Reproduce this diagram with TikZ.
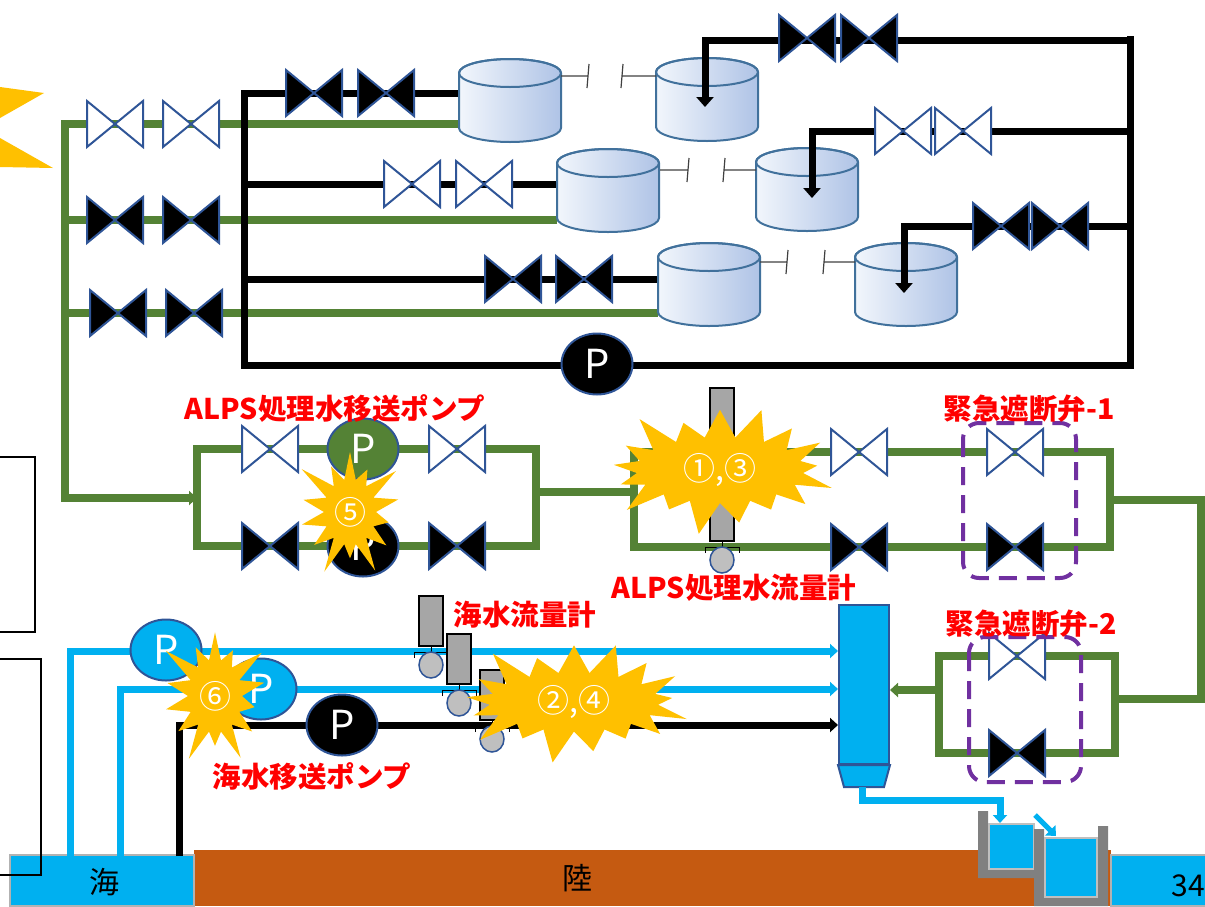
\documentclass[tikz,border=0pt]{standalone}
\usepackage{fontspec}
\setmainfont{Noto Sans CJK JP}
\usetikzlibrary{arrows.meta,shapes.geometric,shapes.symbols}

\definecolor{pipegreen}{HTML}{548235}
\definecolor{seablue}{HTML}{00B0F0}
\definecolor{edgeblue}{HTML}{2F5597}
\definecolor{tankedge}{HTML}{41719C}
\definecolor{tanklight}{HTML}{F2F6FC}
\definecolor{tankdark}{HTML}{AFC3E6}
\definecolor{boomyellow}{HTML}{FFC000}
\definecolor{dashpurple}{HTML}{7030A0}
\definecolor{landbrown}{HTML}{C55A11}
\definecolor{metergray}{HTML}{A6A6A6}
\definecolor{bulbgray}{HTML}{BFBFBF}

\tikzset{
  valve/.pic={\draw[draw=edgeblue,line width=2pt,line join=miter,pic actions]
    (-28,-23) -- (-28,23) -- (28,-23) -- (28,23) -- cycle;},
  tank/.pic={\draw[tankedge,line width=2pt,left color=tanklight,right color=tankdark]
    (-51,0) -- (-51,55) arc (180:0:51 and 14) -- (51,0) arc (0:-180:51 and 14) -- cycle;
    \draw[tankedge,line width=2pt] (0,0) ellipse (51 and 14);},
  pics/meter/.style={code={
    \draw[line width=1.5pt,fill=metergray] (-12,-5) rectangle (12,-5-#1);
    \draw[line width=1pt] (0,-5) -- (0,1) (-17,7) -- (-17,1) -- (17,1) -- (17,7);
    \draw[edgeblue,line width=1.5pt,fill=bulbgray] (0,14) ellipse (12 and 13);}},
  ktip/.tip={Triangle[width=17pt,length=10pt]},
  btip/.tip={Triangle[width=14pt,length=8pt]},
}

\begin{document}
\begin{tikzpicture}[x=1pt,y=-1pt,
  gpipe/.style={line width=8pt,pipegreen},
  kpipe/.style={line width=7pt},
  bpipe/.style={line width=7pt,seablue},
  pump/.style={ellipse,draw=edgeblue,line width=2pt,minimum width=71pt,minimum height=61pt,
    inner sep=0pt,text=white,font=\fontsize{40}{40}\selectfont},
  boom/.style={starburst,fill=boomyellow,inner sep=0pt,text=white,
    starburst point height=38pt,font=\fontsize{32}{32}\selectfont},
  redlabel/.style={text=red,inner sep=0pt,font=\bfseries\fontsize{28.5}{28.5}\selectfont},
  dashbox/.style={dashpurple,line width=4pt,dash pattern=on 18pt off 10pt,rounded corners=16pt},
  tick/.style={line width=1.2pt,black!75}]
\useasboundingbox (0,0) rectangle (1205,906);

% sea and land
\fill[landbrown] (194,850) rectangle (1111,906);
\draw[fill=seablue,draw=gray!60,line width=2pt] (10,855) rectangle (194,906);
\draw[fill=seablue,draw=gray!60,line width=2pt] (1111,855) rectangle (1212,906);
\node[font=\fontsize{30}{30}\selectfont] (sea) at (104,882) {海};
\node[font=\fontsize{30}{30}\selectfont] (land) at (577,878) {陸};
\node[font=\fontsize{30}{30}\selectfont] (page) at (1188,886) {34};

% weir boxes
\fill[gray] (978,811) rectangle (988,878) (978,868) rectangle (1044,878);
\draw[fill=seablue,draw=gray!50,line width=1.5pt] (989,824) rectangle (1034,869);
\fill[gray] (1034,829) rectangle (1044,906) (1034,898) rectangle (1108,906) (1098,826) rectangle (1108,906);
\draw[fill=seablue,draw=gray!50,line width=1.5pt] (1045,838) rectangle (1097,897);

% left brackets
\draw[line width=1.2pt] (0,457) -- (35,457) -- (35,632) -- (0,632);
\draw[line width=1.2pt] (0,659) -- (41,659) -- (41,875) -- (0,875);

% explosion cut at the edge
\fill[boomyellow] (0,87) -- (44,93) -- (0,118) -- cycle;
\fill[boomyellow] (0,138) -- (53,168) -- (0,167) -- cycle;

% green header and tank lines
\coordinate (gtop) at (65,124);
\coordinate (ginlet) at (197,498);
\draw[gpipe,-{btip}] (459,124) -- (gtop) -- (65,498) -- (ginlet);
\draw[gpipe] (65,220) -- (557,220);
\draw[gpipe] (65,313) -- (658,313);

% black loop
\draw[kpipe] (459,93) -- (244,93) -- (244,365) -- (1130,365) -- (1130,36);
\draw[kpipe] (244,184) -- (557,184);
\draw[kpipe] (244,279) -- (658,279);

% tanks
\pic at (510,73) {tank};
\pic at (707,72) {tank};
\pic at (608,163) {tank};
\pic at (807,162) {tank};
\pic at (709,257) {tank};
\pic at (906,257) {tank};
\draw[tick] (561,76) -- (588,76) (589,64) -- (587,88) (623,64) -- (621,88) (622,76) -- (656,76);
\draw[tick] (660,170) -- (688,170) (689,158) -- (687,182) (725,158) -- (723,182) (724,170) -- (756,170);
\draw[tick] (760,262) -- (787,262) (788,250) -- (786,274) (825,250) -- (823,274) (824,262) -- (855,262);

% return lines into tanks
\draw[kpipe,-{ktip}] (1133.5,40) -- (705,40) -- (705,107);
\draw[kpipe,-{ktip}] (1130,131) -- (812,131) -- (812,198);
\draw[kpipe,-{ktip}] (1130,226) -- (904,226) -- (904,293);

% transfer loop and shut-off loops
\draw[gpipe] (197,449) rectangle (536,546);
\draw[gpipe] (536,492) -- (634,492);
\draw[gpipe] (634,452) rectangle (1110,547);
\draw[gpipe] (1110,500) -- (1201,500) -- (1201,699) -- (1115,699);
\draw[gpipe] (939,656) rectangle (1115,753);

% mixing tank
\node[draw=edgeblue,fill=seablue,line width=2pt,minimum width=50pt,minimum height=159pt,inner sep=0pt]
  (mixer) at (864,684.5) {};
\draw[fill=seablue,draw=edgeblue,line width=2pt] (mixer.south west) -- (mixer.south east) -- (884,787) -- (844,787) -- cycle;
\draw[gpipe,-{btip}] (939,690) -- (mixer.east |- 0,690);
\draw[bpipe,-{btip}] (862,787) -- (862,800) -- (1000,800) -- (1000,823);
\draw[line width=5pt,seablue,-{btip}] (1035,815) -- (1056,836);

% pumps
\node[pump,fill=black] (ptop) at (597,364) {P};
\node[pump,fill=pipegreen] (palps1) at (363,449) {P};
\node[pump,fill=black] (palps2) at (363,546) {P};

% sea water lines
\draw[bpipe,-{btip}] (70,856) -- (70,651) -- (mixer.west |- 0,651);
\draw[bpipe,-{btip}] (120,856) -- (120,689) -- (mixer.west |- 0,689);
\draw[kpipe,-{btip}] (179,856) -- (179,725) -- (mixer.west |- 0,725);
\node[pump,fill=seablue] (psea1) at (166,650) {P};
\node[pump,fill=seablue] (psea2) at (261,689) {P};
\node[pump,fill=black] (psea3) at (342,725) {P};

% valves
\foreach \x/\y in {314/93,386/93,513/279,584/279,807/38,869/38,1001/226,1060/226,
  115/220,191/220,118/313,194/313,270/546,457/546,859/547,1015/547,1017/753}
  \pic[fill=black] at (\x,\y) {valve};
\foreach \x/\y in {115/124,191/124,412/184,484/184,903/131,963/131,
  270/449,457/449,859/452,1015/452,1017/656}
  \pic[fill=white] at (\x,\y) {valve};

% flow meters
\pic at (431,651) {meter=50};
\pic at (459,689) {meter=50};
\pic at (492,725) {meter=50};
\pic at (722,546) {meter=153};

% emergency shut-off valves
\draw[dashbox] (963,423) rectangle (1076,578);
\draw[dashbox] (969,637) rectangle (1081,782);

% explosions
\node[boom,minimum width=128pt,minimum height=142pt,starburst points=14] (b5) at (350,512) {⑤};
\node[boom,minimum width=243pt,minimum height=142pt] (b13) at (720,470) {①,③};
\node[boom,minimum width=130pt,minimum height=149pt,starburst points=14] (b6) at (215,696) {⑥};
\node[boom,minimum width=245pt,minimum height=135pt] (b24) at (574,702) {②,④};

% labels
\node[redlabel] (lpump) at (335,408) {ALPS処理水移送ポンプ};
\node[redlabel] (lvalve1) at (1029,409) {緊急遮断弁-1};
\node[redlabel] (lmeter) at (734,588) {ALPS処理水流量計};
\node[redlabel] (lsmeter) at (525,615) {海水流量計};
\node[redlabel] (lspump) at (312,776) {海水移送ポンプ};
\node[redlabel] (lvalve2) at (1031,624) {緊急遮断弁-2};

\end{tikzpicture}
\end{document}
